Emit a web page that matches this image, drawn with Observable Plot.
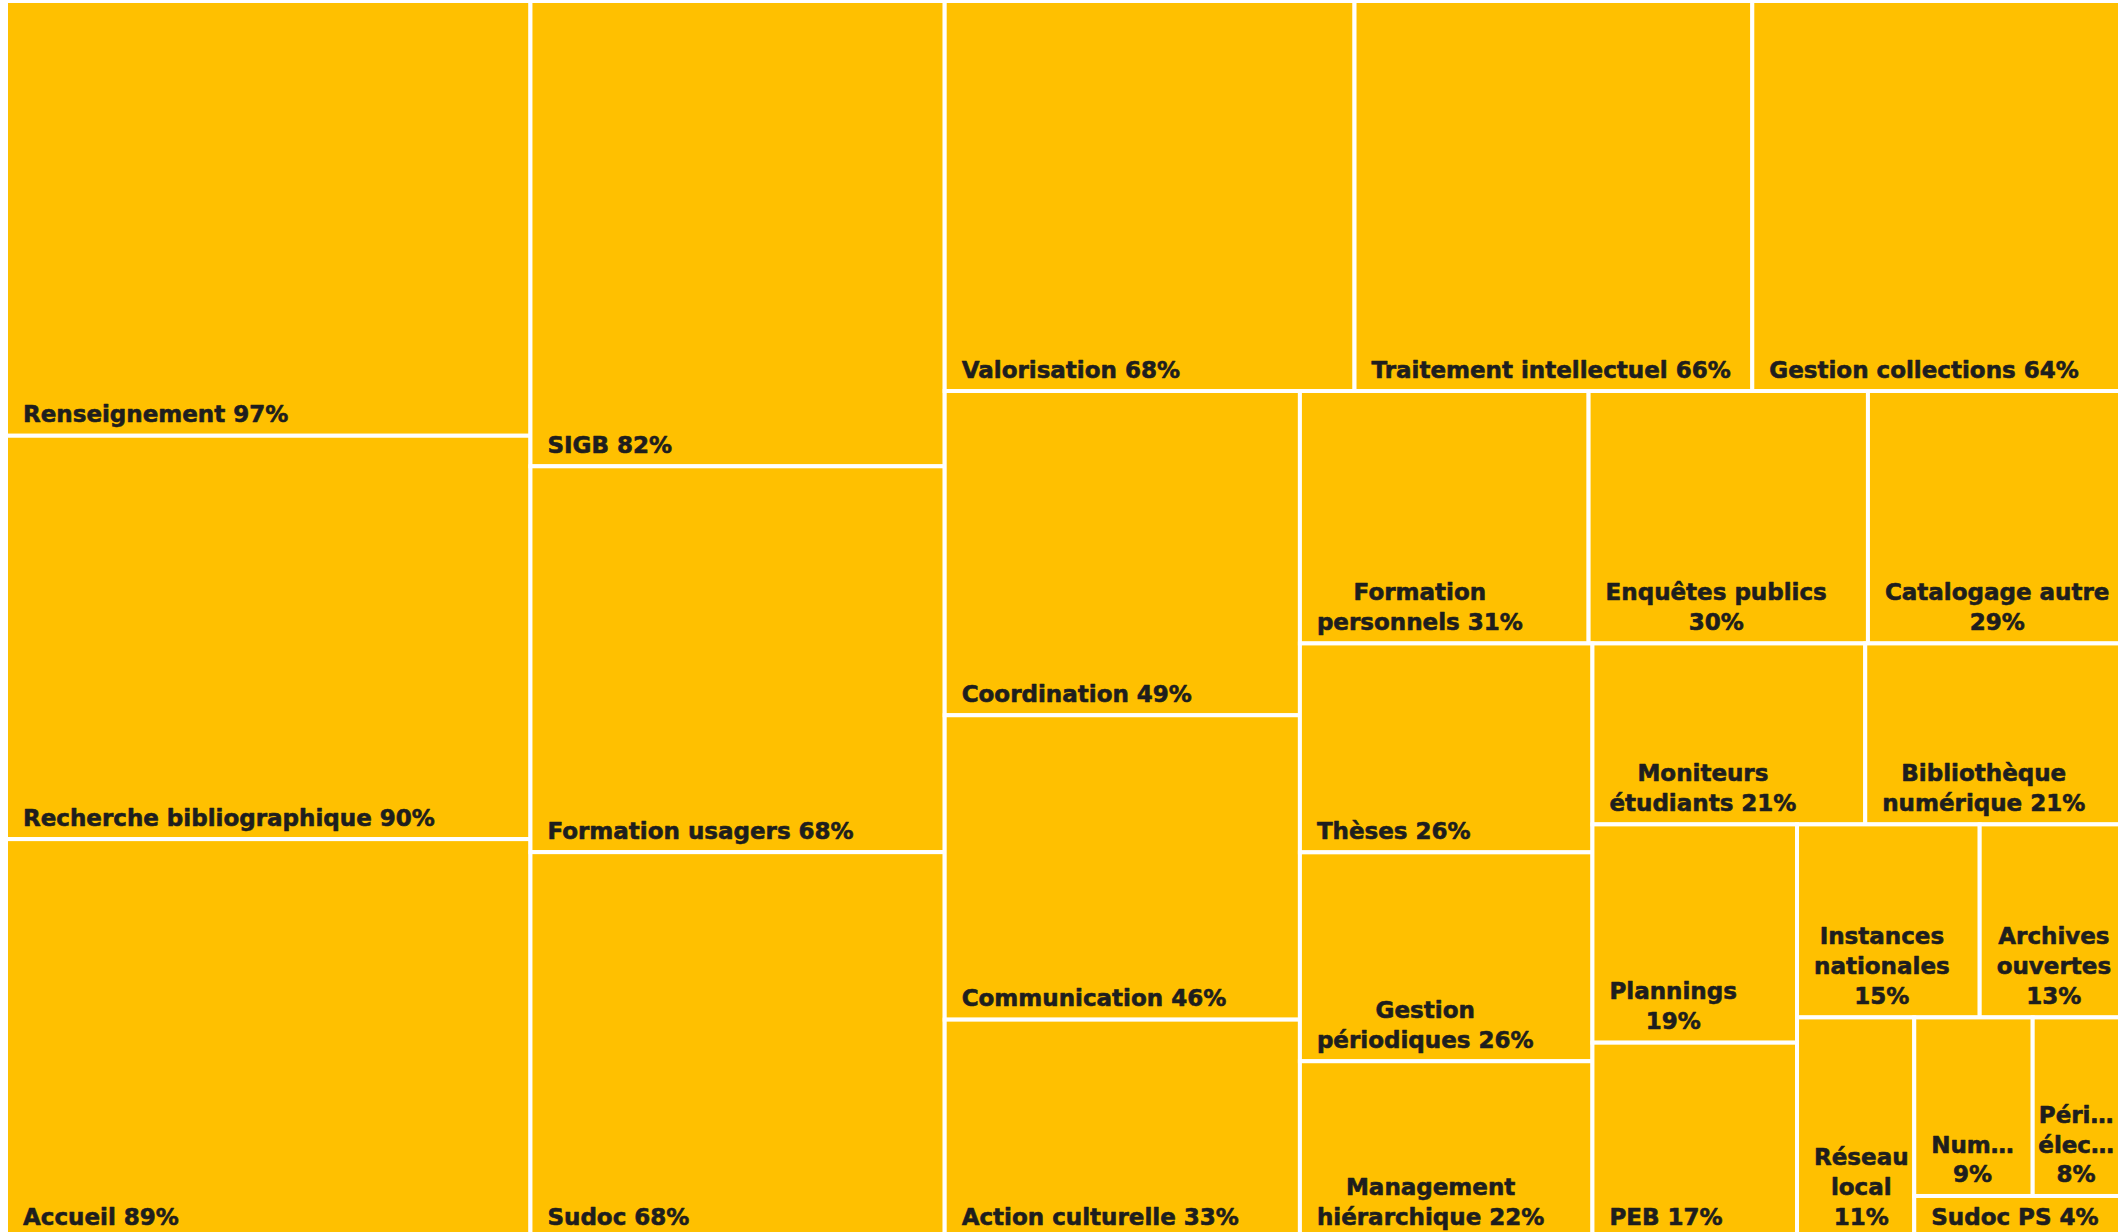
<!DOCTYPE html>
<html lang="fr">
<head>
<meta charset="utf-8">
<script src="https://cdn.jsdelivr.net/npm/d3@7"></script>
<script src="https://cdn.jsdelivr.net/npm/@observablehq/plot@0.6"></script>
<style>
html, body { margin: 0; padding: 0; background: #ffffff; overflow: hidden; }
#chart svg { display: block; }
</style>
</head>
<body>
<div id="chart"></div>
<script>
// ---- Data (share, %) ----
const categories = [
  "Renseignement", "Recherche bibliographique", "Accueil",
  "SIGB", "Formation usagers", "Sudoc",
  "Valorisation", "Traitement intellectuel", "Gestion collections",
  "Coordination", "Communication", "Action culturelle",
  "Formation personnels", "Enquêtes publics", "Catalogage autre",
  "Thèses", "Gestion périodiques", "Management hiérarchique",
  "Moniteurs étudiants", "Bibliothèque numérique",
  "Plannings", "PEB",
  "Instances nationales", "Archives ouvertes",
  "Réseau local",
  "Num…", "Péri… élec…",
  "Sudoc PS"
];
const shares = [
  97, 90, 89,
  82, 68, 68,
  68, 66, 64,
  49, 46, 33,
  31, 30, 29,
  26, 26, 22,
  21, 21,
  19, 17,
  15, 13,
  11,
  9, 8,
  4
];
// Label text as printed in each cell (line breaks as in the reference)
const labelNames = [
  "Renseignement", "Recherche bibliographique", "Accueil",
  "SIGB", "Formation usagers", "Sudoc",
  "Valorisation", "Traitement intellectuel", "Gestion collections",
  "Coordination", "Communication", "Action culturelle",
  "Formation\npersonnels", "Enquêtes publics", "Catalogage autre",
  "Thèses", "Gestion\npériodiques", "Management\nhiérarchique",
  "Moniteurs\nétudiants", "Bibliothèque\nnumérique",
  "Plannings", "PEB",
  "Instances\nnationales", "Archives\nouvertes",
  "Réseau\nlocal",
  "Num…", "Péri…\nélec…",
  "Sudoc PS"
];
const percentOnOwnLine = [
  false, false, false,
  false, false, false,
  false, false, false,
  false, false, false,
  false, true, true,
  false, false, false,
  false, false,
  true, false,
  true, true,
  true,
  true, true,
  false
];
// Number of cells in each strip of the treemap, in order
const stripSizes = [3, 3, 3, 3, 3, 3, 2, 2, 2, 1, 2, 1];

// ---- Layout (d3 treemap, strip tiling) ----
const LW = 2132, LH = 1237;      // layout extent (the reference is cropped right and bottom)
const X0 = 6, Y0 = 1;            // where the layout starts on the page
const VISIBLE_RIGHT = 2118 - X0 - 4;
const STRETCH = 1.1;             // horizontal stretch of the original chart
const PAD = 16, BASE = 14, FS = 23, FONT = "'DejaVu Sans', sans-serif";

function tileStrips(parent, x0, y0, x1, y1) {
  const nodes = parent.children;
  let value = parent.value, i0 = 0;
  for (const k of stripSizes) {
    if (i0 >= nodes.length) break;
    const row = {children: nodes.slice(i0, i0 + k)};
    row.value = d3.sum(row.children, d => d.value);
    const dx = x1 - x0, dy = y1 - y0;
    if (dx < dy * STRETCH) {
      const y = value ? y0 + dy * row.value / value : y1;
      d3.treemapDice(row, x0, y0, x1, y);
      y0 = y;
    } else {
      const x = value ? x0 + dx * row.value / value : x1;
      d3.treemapSlice(row, x0, y0, x, y1);
      x0 = x;
    }
    value -= row.value;
    i0 += k;
  }
}

const items = categories.map((name, i) => ({
  name,
  value: shares[i],
  label: labelNames[i] + (percentOnOwnLine[i] ? "\n" : " ") + shares[i] + "%"
}));
const root = d3.hierarchy({children: items}).sum(d => d.value || 0);
d3.treemap().tile(tileStrips).size([LW, LH]).round(false)(root);

const ctx = document.createElement("canvas").getContext("2d");
ctx.font = `bold ${FS}px ${FONT}`;
const cells = root.leaves().map(n => {
  const lines = n.data.label.split("\n");
  const blockWidth = d3.max(lines, l => ctx.measureText(l).width) + 1;
  const cx = Math.min(n.x0 + PAD + blockWidth / 2, VISIBLE_RIGHT - blockWidth / 2);
  return {x0: n.x0, x1: n.x1, y0: n.y0, y1: n.y1, label: n.data.label, cx};
});

const chart = Plot.plot({
  width: 2118,
  height: 1232,
  margin: 0,
  x: {domain: [0, LW], range: [X0, X0 + LW], axis: null},
  y: {domain: [0, LH], range: [Y0, Y0 + LH], axis: null},
  style: {background: "#ffffff", fontFamily: FONT},
  marks: [
    Plot.rect(cells, {
      x1: "x0", x2: "x1", y1: "y0", y2: "y1",
      fill: "#FFC000", stroke: "#ffffff", strokeWidth: 4
    }),
    Plot.text(cells, {
      x: "cx",
      y: d => d.y1 - BASE,
      text: "label",
      textAnchor: "middle",
      lineAnchor: "bottom",
      lineHeight: 1.3,
      fontSize: FS,
      fontWeight: "bold",
      fill: "#1e1e1e",
      stroke: "#1e1e1e",
      strokeWidth: 0.6
    })
  ]
});
document.getElementById("chart").appendChild(chart);
</script>
</body>
</html>
